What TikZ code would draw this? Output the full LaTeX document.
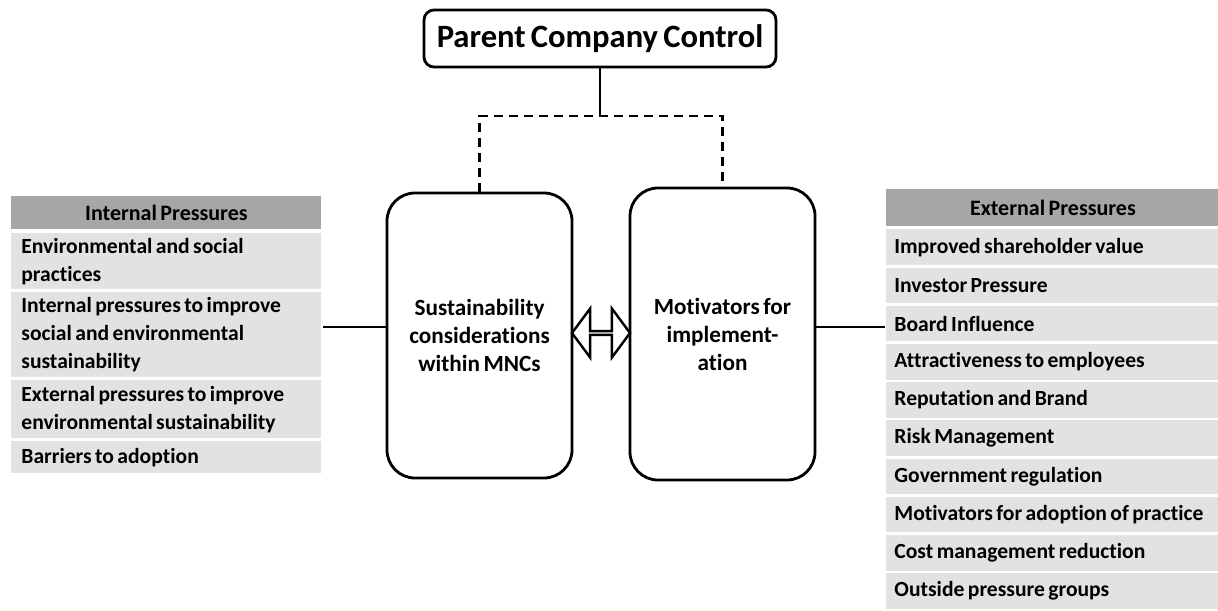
\documentclass[tikz,border=0pt]{standalone}
\usepackage{fontspec}
\setmainfont{Carlito}[Ligatures=NoCommon, WordSpace=0.7]
\usetikzlibrary{positioning, shapes.arrows}
\definecolor{hdrgray}{RGB}{166,166,166}
\definecolor{rowgray}{RGB}{226,226,226}

\begin{document}
\begin{tikzpicture}[x=.5pt, y=-.5pt, line width=1.4pt,
  hdr/.style={fill=hdrgray, anchor=north west, inner sep=0pt, align=center, font=\bfseries\fontsize{11}{12}\selectfont},
  row/.style={fill=rowgray, anchor=north west, inner xsep=5pt, inner ysep=0pt, align=flush left, font=\bfseries\fontsize{10.8}{14}\selectfont},
  mainbox/.style={draw, rounded corners=14pt, minimum width=92.5pt, align=center, font=\bfseries\fontsize{11.6}{14}\selectfont}]
\useasboundingbox (0,0) rectangle (1218,610);

\node[draw, rounded corners=5pt, minimum width=176pt, minimum height=28.5pt, inner sep=0pt, font=\bfseries\fontsize{16.3}{18}\selectfont] (pcc) at (600,38.5) {Parent Company Control};

\node[mainbox, minimum height=142.5pt] (sus) at (479.5,335.5) {Sustainability\\considerations\\within MNCs};
\node[mainbox, minimum height=146pt] (mot) at (722.5,334) {Motivators for\\implement-\\ation};
\node[double arrow, draw, line width=1.2pt, fill=white, inner sep=0pt, minimum height=29pt, minimum width=24.5pt, double arrow head extend=7pt, double arrow tip angle=107] (arr) at (601,333) {};

% internal pressures
\node[hdr, minimum width=155pt, minimum height=16.5pt] (lhead) at (10,195) {Internal Pressures};
\foreach \y/\h/\t [count=\i] in {232/56/{Environmental and social\\practices},
  291/85/{Internal pressures to improve\\social and environmental\\sustainability},
  379/58/{External pressures to improve\\environmental sustainability},
  440/32/{Barriers to adoption}}
  \node[row, text width=145pt, minimum height=\h*.5pt] (l\i) at (10,\y) {\t};

% external pressures
\node[hdr, minimum width=166.5pt, minimum height=18.5pt] (rhead) at (885,188) {External Pressures};
\foreach \t [count=\i] in {Improved shareholder value, Investor Pressure, Board Influence,
  Attractiveness to employees, Reputation and Brand, Risk Management, Government regulation,
  Motivators for adoption of practice, Cost management reduction, Outside pressure groups}
  \node[row, inner xsep=4pt, text width=162pt, minimum height=17.8pt] (r\i) at (885,{228+(\i-1)*38.2}) {\t};

\draw (pcc.south) -- (pcc.south |- 0,116) coordinate (jn);
\draw[dash pattern=on 4.5pt off 3pt] (sus.north) |- (jn) -| (mot.north);
\draw ([yshift=4.25pt]sus.west) -- ([yshift=4.25pt]sus.west -| l2.east);
\draw ([yshift=3.5pt]mot.east) -- ([yshift=3.5pt]mot.east -| r3.west);

\end{tikzpicture}
\end{document}
